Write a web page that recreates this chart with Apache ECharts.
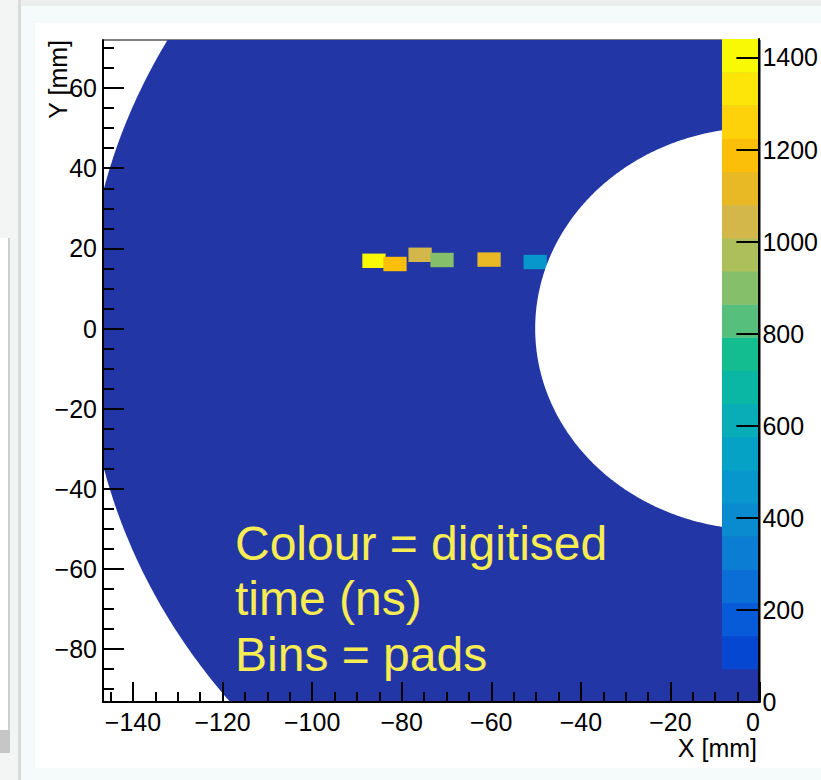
<!DOCTYPE html>
<html>
<head>
<meta charset="utf-8">
<script src="https://cdn.jsdelivr.net/npm/echarts@6/dist/echarts.min.js"></script>
<style>
html,body{margin:0;padding:0;background:#ffffff;}
#chart{width:821px;height:780px;}
</style>
</head>
<body>
<div id="chart"></div>
<script>
// ---------------- data ----------------
const xRange = [-146.7, 0];
const yRange = [-93.2, 72];
const zRange = [0, 1440];
const nContours = 20;

const xMajorTicks = [-140, -120, -100, -80, -60, -40, -20, 0];
const xMinorTicks = [-145, -135, -130, -125, -115, -110, -105, -95, -90, -85, -75, -70, -65,
                     -55, -50, -45, -35, -30, -25, -15, -10, -5];
const yMajorTicks = [-80, -60, -40, -20, 0, 20, 40, 60];
const yMinorTicks = [-90, -85, -75, -70, -65, -55, -50, -45, -35, -30, -25, -15, -10, -5,
                     5, 10, 15, 25, 30, 35, 45, 50, 55, 65, 70];
const zTicks = [0, 200, 400, 600, 800, 1000, 1200, 1400];

// detector (pad plane) geometry in mm, and the time of the un-hit pads
const detectorCentre = [0, 0];
const detectorInnerRadius = 50.2;
const detectorOuterRadius = 150.6;
const emptyPadTime = 30;

// hit pads: centre X, centre Y (mm) and digitised time (ns)
const padX = [-86.2, -81.5, -75.9, -71.0, -60.5, -50.2];
const padY = [16.9, 16.1, 18.4, 17.1, 17.2, 16.6];
const padTime = [1410, 1190, 1040, 900, 1110, 470];

// palette, one colour per contour band (low -> high)
const palette = [
  '#2336a5', '#0647d2', '#075bd8', '#0a6ed6', '#0b7dd3',
  '#0a8bd0', '#0797cc', '#06a2c6', '#08adb8', '#0ab7a5',
  '#14bd8f', '#55bf7b', '#86bf6a', '#adbf5a', '#d3b74a',
  '#e8b925', '#fbbf0a', '#fed20a', '#fde50a', '#f9f906'
];

// ---------------- style constants ----------------
const padW = 5.2, padH = 3.6;
const FONT = '"Liberation Sans", Arial, Helvetica, sans-serif';
const bandWidth = (zRange[1] - zRange[0]) / nContours;
function colourFor(t) {
  let i = Math.floor((t - zRange[0]) / bandWidth);
  if (i < 0) i = 0;
  if (i > nContours - 1) i = nContours - 1;
  return palette[i];
}
const bandLows = [];
for (let i = 0; i < nContours; i++) bandLows.push(zRange[0] + i * bandWidth);

function circlePoints(api, cx, cy, r, n) {
  const pts = [];
  for (let k = 0; k < n; k++) {
    const a = 2 * Math.PI * k / n;
    pts.push(api.coord([cx + r * Math.cos(a), cy + r * Math.sin(a)]));
  }
  return pts;
}
const minusFmt = v => (v < 0 ? '\u2212' + (-v) : String(v));
const plainFmt = v => String(v);

const chart = echarts.init(document.getElementById('chart'), null, {renderer: 'svg'});

const axisLineStyle = {color: '#000', width: 2};
const labelStyle = {color: '#000', fontSize: 25, fontFamily: FONT};

const option = {
  animation: false,
  backgroundColor: 'transparent',
  grid: [
    {left: 103, top: 40, right: 61, bottom: 78, show: true, borderColor: '#000', borderWidth: 1, backgroundColor: 'transparent'},
    {left: 722, top: 39, right: 61, bottom: 78, show: false}
  ],
  xAxis: [
    {gridIndex: 0, type: 'value', min: xRange[0], max: xRange[1], position: 'bottom', z: 10,
     axisLine: {show: true, onZero: false, lineStyle: axisLineStyle},
     axisTick: {show: true, inside: true, length: 20, customValues: xMajorTicks, lineStyle: {color: '#000', width: 2}},
     axisLabel: {show: true, customValues: xMajorTicks, formatter: minusFmt, margin: 7, alignMaxLabel: 'right', ...labelStyle},
     splitLine: {show: false}},
    {gridIndex: 0, type: 'value', min: xRange[0], max: xRange[1], position: 'bottom', z: 10,
     axisLine: {show: false, onZero: false},
     axisTick: {show: true, inside: true, length: 10, customValues: xMinorTicks, lineStyle: {color: '#000', width: 2}},
     axisLabel: {show: false}, splitLine: {show: false}},
    {gridIndex: 1, type: 'value', min: 0, max: 1, show: false}
  ],
  yAxis: [
    {gridIndex: 0, type: 'value', min: yRange[0], max: yRange[1], position: 'left', z: 10,
     axisLine: {show: true, onZero: false, lineStyle: axisLineStyle},
     axisTick: {show: true, inside: true, length: 21, customValues: yMajorTicks, lineStyle: {color: '#000', width: 2}},
     axisLabel: {show: true, customValues: yMajorTicks, formatter: minusFmt, margin: 6, ...labelStyle},
     splitLine: {show: false}},
    {gridIndex: 0, type: 'value', min: yRange[0], max: yRange[1], position: 'left', z: 10,
     axisLine: {show: false, onZero: false},
     axisTick: {show: true, inside: true, length: 11, customValues: yMinorTicks, lineStyle: {color: '#000', width: 2}},
     axisLabel: {show: false}, splitLine: {show: false}},
    {gridIndex: 1, type: 'value', min: zRange[0], max: zRange[1], position: 'right', z: 10,
     axisLine: {show: true, onZero: false, lineStyle: axisLineStyle},
     axisTick: {show: true, inside: true, length: 22, customValues: zTicks, lineStyle: {color: '#000', width: 2}},
     axisLabel: {show: true, customValues: zTicks, formatter: plainFmt, margin: 4, ...labelStyle},
     splitLine: {show: false}}
  ],
  series: [
    { // pad plane (all pads, un-hit)
      type: 'custom', name: 'pads', xAxisIndex: 0, yAxisIndex: 0, clip: true, z: 2,
      encode: {x: 0, y: 1},
      data: [[detectorCentre[0], detectorCentre[1], detectorOuterRadius, emptyPadTime]],
      renderItem: function (params, api) {
        return {type: 'polygon', shape: {points: circlePoints(api, api.value(0), api.value(1), api.value(2), 720)},
                style: {fill: colourFor(api.value(3)), stroke: null}};
      }
    },
    { // hit pads
      type: 'custom', name: 'hits', xAxisIndex: 0, yAxisIndex: 0, clip: true, z: 3,
      encode: {x: 0, y: 1},
      data: padX.map((x, i) => [x, padY[i], padTime[i]]),
      renderItem: function (params, api) {
        const x = api.value(0), y = api.value(1);
        const p0 = api.coord([x - padW / 2, y + padH / 2]);
        const p1 = api.coord([x + padW / 2, y - padH / 2]);
        return {type: 'rect', shape: {x: p0[0], y: p0[1], width: p1[0] - p0[0], height: p1[1] - p0[1]},
                style: {fill: colourFor(api.value(2)), stroke: null}};
      }
    },
    { // central hole
      type: 'custom', name: 'hole', xAxisIndex: 0, yAxisIndex: 0, clip: true, z: 4,
      encode: {x: 0, y: 1},
      data: [[detectorCentre[0], detectorCentre[1], detectorInnerRadius]],
      renderItem: function (params, api) {
        return {type: 'polygon', shape: {points: circlePoints(api, api.value(0), api.value(1), api.value(2), 720)},
                style: {fill: '#ffffff', stroke: null}};
      }
    },
    { // colour bar
      type: 'custom', name: 'palette', xAxisIndex: 2, yAxisIndex: 2, clip: true, z: 5,
      encode: {x: 0, y: 1},
      data: bandLows.map((lo, i) => [0, lo, lo + bandWidth, i]),
      renderItem: function (params, api) {
        const p0 = api.coord([0, api.value(2)]);
        const p1 = api.coord([1, api.value(1)]);
        return {type: 'rect', shape: {x: p0[0], y: p0[1], width: p1[0] - p0[0], height: p1[1] - p0[1] + 0.5},
                style: {fill: palette[api.value(3)], stroke: null}};
      }
    }
  ],
  graphic: [
    {type: 'rect', z: -20, silent: true, shape: {x: 0, y: 0, width: 821, height: 780}, style: {fill: '#f5fbfb'}},
    {type: 'rect', z: -19, silent: true, shape: {x: 0, y: 0, width: 821, height: 6}, style: {fill: '#eceeee'}},
    {type: 'rect', z: -19, silent: true, shape: {x: 0, y: 0, width: 18, height: 780}, style: {fill: '#f3f4f4'}},
    {type: 'rect', z: -18, silent: true, shape: {x: 18, y: 0, width: 3, height: 780}, style: {fill: '#d9dbdb'}},
    {type: 'rect', z: -18, silent: true, shape: {x: 0, y: 238, width: 8, height: 492}, style: {fill: '#ffffff'}},
    {type: 'rect', z: -18, silent: true, shape: {x: 8, y: 238, width: 2, height: 492}, style: {fill: '#cfcfcf'}},
    {type: 'rect', z: -18, silent: true, shape: {x: 0, y: 730, width: 10, height: 23}, style: {fill: '#c6c6c6'}},
    {type: 'rect', z: -18, silent: true, shape: {x: 35, y: 23, width: 786, height: 745}, style: {fill: '#ffffff'}},
    {type: 'text', z: 100, x: 58, y: 40, rotation: Math.PI / 2,
     style: {text: 'Y [mm]', fill: '#000', font: '25px ' + FONT, align: 'right', textAlign: 'right', verticalAlign: 'middle', textVerticalAlign: 'middle'}},
    {type: 'text', z: 100, x: 757, y: 748,
     style: {text: 'X [mm]', fill: '#000', font: '25px ' + FONT, align: 'right', textAlign: 'right', verticalAlign: 'middle', textVerticalAlign: 'middle'}},
    {type: 'text', z: 100, x: 235, y: 543,
     style: {text: 'Colour = digitised', fill: '#f7ec52', font: '48px ' + FONT, verticalAlign: 'middle', textVerticalAlign: 'middle'}},
    {type: 'text', z: 100, x: 235, y: 598,
     style: {text: 'time (ns)', fill: '#f7ec52', font: '48px ' + FONT, verticalAlign: 'middle', textVerticalAlign: 'middle'}},
    {type: 'text', z: 100, x: 235, y: 654,
     style: {text: 'Bins = pads', fill: '#f7ec52', font: '48px ' + FONT, verticalAlign: 'middle', textVerticalAlign: 'middle'}}
  ]
};
chart.setOption(option);
</script>
</body>
</html>
